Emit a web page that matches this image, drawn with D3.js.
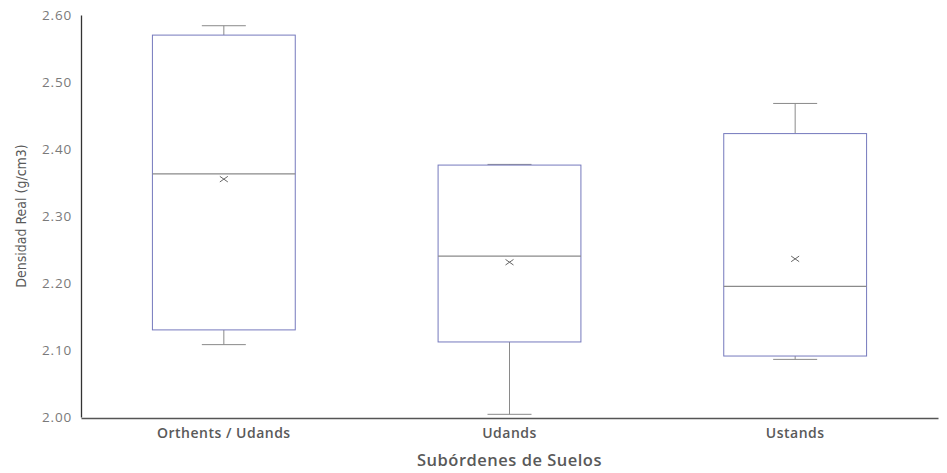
<!DOCTYPE html>
<html><head><meta charset="utf-8">
<script src="https://cdn.jsdelivr.net/npm/d3@7"></script>
<style>
body{margin:0;background:#fff;}
svg{display:block;}
</style></head>
<body>
<svg id="chart" width="947" height="473"></svg>
<script>
const categories = ["Orthents / Udands", "Udands", "Ustands"];
const whiskerLow  = [2.108, 2.004, 2.086];
const q1          = [2.130, 2.112, 2.091];
const median      = [2.363, 2.240, 2.195];
const q3          = [2.570, 2.376, 2.423];
const whiskerHigh = [2.584, 2.377, 2.468];
const means       = [2.355, 2.231, 2.236];
const yTicks = [2.00, 2.10, 2.20, 2.30, 2.40, 2.50, 2.60];

const data = categories.map((c,i)=>({c, lo:whiskerLow[i], q1:q1[i], med:median[i], q3:q3[i], hi:whiskerHigh[i], mean:means[i]}));

const svg = d3.select("#chart");
const m = {left:81, right:9, top:15, bottom:56};
const W = 947, H = 473;
const x = d3.scaleBand().domain(categories).range([m.left, W-m.right]);
const y = d3.scaleLinear().domain([2.0, 2.6]).range([H-m.bottom, m.top]);

const boxW = x.bandwidth()*0.5;
const capW = 44;
const boxColor = "#7579bd";
const greyLine = "#8a8a8a";

const g = svg.append("g");
data.forEach(d=>{
  const cx = x(d.c) + x.bandwidth()/2;
  g.append("line").attr("x1",cx).attr("x2",cx).attr("y1",y(d.hi)).attr("y2",y(d.q3)).attr("stroke",greyLine).attr("stroke-width",1);
  g.append("line").attr("x1",cx).attr("x2",cx).attr("y1",y(d.q1)).attr("y2",y(d.lo)).attr("stroke",greyLine).attr("stroke-width",1);
  g.append("line").attr("x1",cx-capW/2).attr("x2",cx+capW/2).attr("y1",y(d.hi)).attr("y2",y(d.hi)).attr("stroke",greyLine).attr("stroke-width",1);
  g.append("line").attr("x1",cx-capW/2).attr("x2",cx+capW/2).attr("y1",y(d.lo)).attr("y2",y(d.lo)).attr("stroke",greyLine).attr("stroke-width",1);
  g.append("rect").attr("x",cx-boxW/2).attr("y",y(d.q3)).attr("width",boxW).attr("height",y(d.q1)-y(d.q3))
    .attr("fill","#fff").attr("stroke",boxColor).attr("stroke-width",1);
  g.append("line").attr("x1",cx-boxW/2).attr("x2",cx+boxW/2).attr("y1",y(d.med)).attr("y2",y(d.med)).attr("stroke",greyLine).attr("stroke-width",1.2);
  const my = y(d.mean), s = 4;
  g.append("path").attr("d",`M${cx-s},${my-s*0.7}L${cx+s},${my+s*0.7}M${cx-s},${my+s*0.7}L${cx+s},${my-s*0.7}`)
    .attr("stroke","#666").attr("stroke-width",1).attr("fill","none");
});

const yAxis = svg.append("g").attr("transform",`translate(${m.left},0)`)
  .call(d3.axisLeft(y).tickValues(yTicks).tickFormat(d3.format(".2f")).tickSize(0).tickPadding(9));
yAxis.select(".domain").attr("stroke","#333").attr("stroke-width",1.3);
yAxis.selectAll("text").attr("fill","#7a7a7a").style("font-family","Open Sans").style("font-size","13.5px").style("letter-spacing","0.8px");

const xAxis = svg.append("g").attr("transform",`translate(0,${H-m.bottom+1})`)
  .call(d3.axisBottom(x).tickSize(0).tickPadding(10));
xAxis.select(".domain").attr("stroke","#555").attr("stroke-width",1.3);
xAxis.selectAll("text").attr("fill","#595959").style("font-family","Open Sans").style("font-size","14px").style("font-weight","600").style("letter-spacing","0.5px");

svg.append("text").attr("x",(m.left+W-m.right)/2).attr("y",466).attr("text-anchor","middle")
  .attr("fill","#595959").style("font-family","Open Sans").style("font-size","16.5px").style("font-weight","600").style("letter-spacing","0.5px")
  .text("Subórdenes de Suelos");

svg.append("text").attr("transform",`translate(26,${(m.top+H-m.bottom)/2}) rotate(-90)`).attr("text-anchor","middle")
  .attr("fill","#595959").style("font-family","'Liberation Sans Narrow','DejaVu Sans Condensed','Open Sans'").style("font-size","14px")
  .style("font-stretch","condensed")
  .text("Densidad Real (g/cm3)");
</script>
</body></html>
